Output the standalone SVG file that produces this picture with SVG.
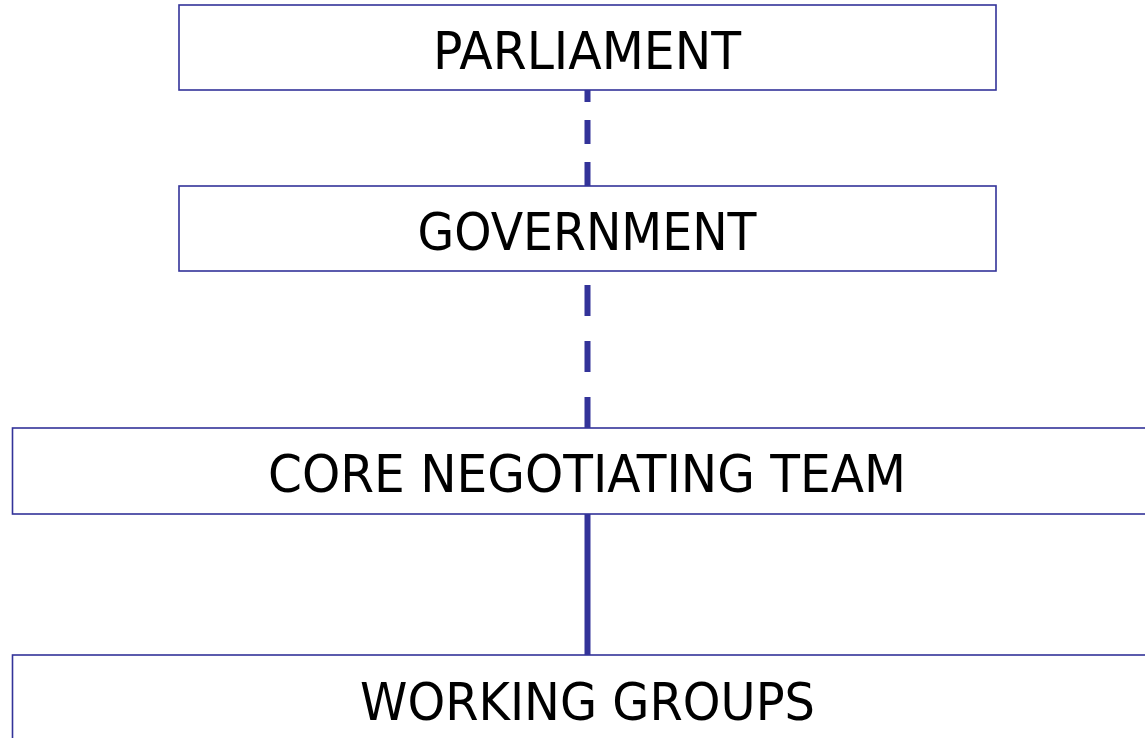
<svg xmlns="http://www.w3.org/2000/svg" width="1145" height="738" viewBox="0 0 1145 738">
<style>
.box{fill:#ffffff;stroke:#333399;stroke-width:1.6}
.lbl{font-family:"DejaVu Sans",Verdana,sans-serif;font-size:52px;fill:#000000;text-anchor:middle}
.conn{stroke:#333399;stroke-width:6;fill:none}
</style>
<rect x="0" y="0" width="1145" height="738" fill="#ffffff"/>
<g id="connectors">
<line class="conn" x1="587.5" y1="90" x2="587.5" y2="186" stroke-dasharray="24 18" stroke-dashoffset="12"/>
<line class="conn" x1="587.5" y1="285" x2="587.5" y2="428" stroke-dasharray="31 25"/>
<line class="conn" x1="587.5" y1="514" x2="587.5" y2="655"/>
</g>
<g id="parliament">
<rect class="box" x="179" y="5" width="817" height="85"/>
<text class="lbl" x="587" y="69" textLength="308" lengthAdjust="spacingAndGlyphs">PARLIAMENT</text>
</g>
<g id="government">
<rect class="box" x="179" y="186" width="817" height="85"/>
<text class="lbl" x="587" y="250" textLength="339" lengthAdjust="spacingAndGlyphs">GOVERNMENT</text>
</g>
<g id="core-negotiating-team">
<rect class="box" x="12.5" y="428" width="1150" height="86"/>
<text class="lbl" x="587" y="492" textLength="638" lengthAdjust="spacingAndGlyphs">CORE NEGOTIATING TEAM</text>
</g>
<g id="working-groups">
<rect class="box" x="12.5" y="655" width="1150" height="100"/>
<text class="lbl" x="587.5" y="720" textLength="455" lengthAdjust="spacingAndGlyphs">WORKING GROUPS</text>
</g>
</svg>
